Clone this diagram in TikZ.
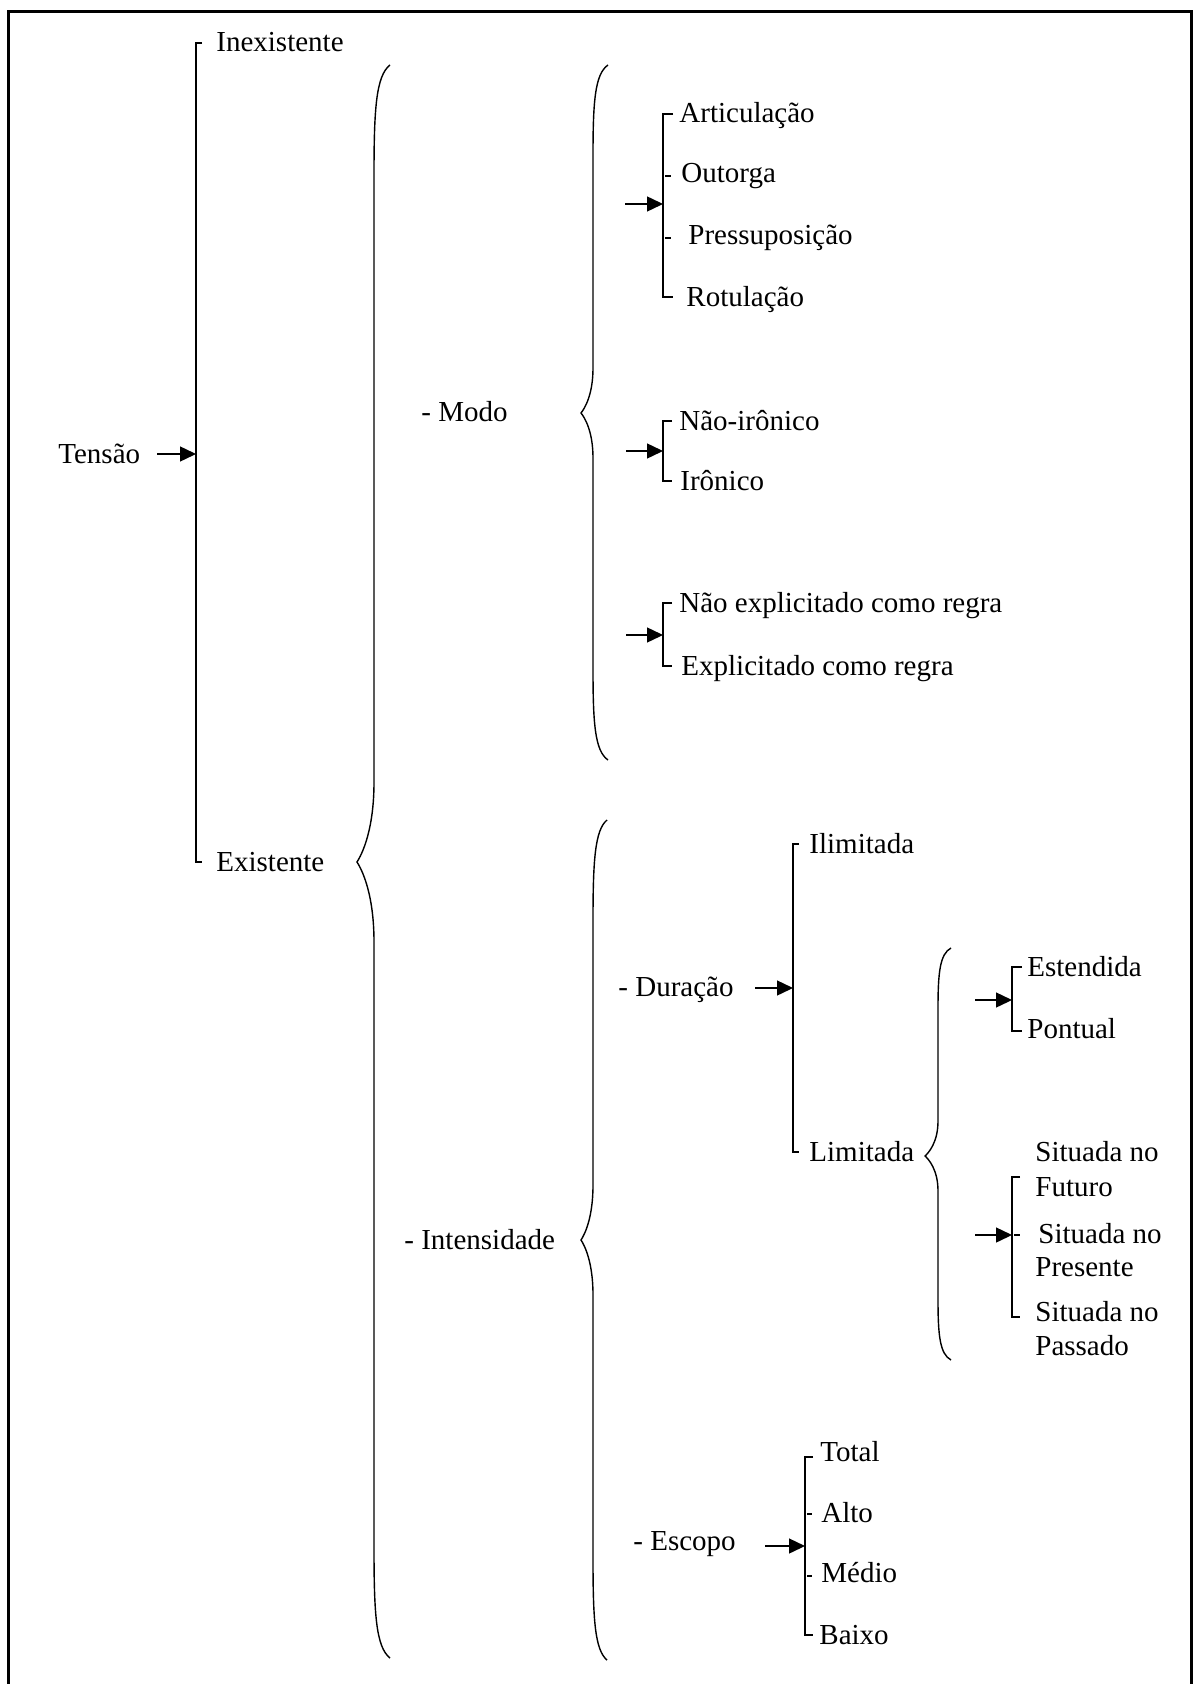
\documentclass[tikz,border=0pt]{standalone}
\usepackage{fontspec}
\setmainfont{Liberation Serif}
\usetikzlibrary{arrows.meta}
\tikzset{
  ln/.style={line width=0.7pt},
  arr/.style={line width=0.7pt,-{Triangle[length=8pt,width=7.5pt]}},
  lbl/.style={anchor=base west,inner sep=0pt,font=\fontsize{14.5}{16.5}\selectfont},
  framestyle/.style={line width=1.5pt}
}
% #1 end x, #2 vertical x, #3 tip x, #4 top y, #5 tip y, #6 bottom y, #7 tip half height, #8 end curve length
\newcommand{\wordbrace}[8]{%
  \draw[ln] (#1,#4) .. controls ({#2+2},{#4+0.1*#8}) and (#2,{#4+0.4*#8}) .. (#2,{#4+#8})
    -- (#2,{#5-#7}) .. controls (#2,{#5-0.4*#7}) and ({#3+0.3*(#2-#3)},{#5-0.1*#7}) .. (#3,#5)
    .. controls ({#3+0.3*(#2-#3)},{#5+0.1*#7}) and (#2,{#5+0.4*#7}) .. (#2,{#5+#7})
    -- (#2,{#6-#8}) .. controls (#2,{#6-0.4*#8}) and ({#2+2},{#6-0.1*#8}) .. (#1,#6);}
\begin{document}
\begin{tikzpicture}[x=0.5pt,y=-0.5pt]
\useasboundingbox (0,0) rectangle (1194,1684);
\fill[white] (0,0) rectangle (1194,1684);
\draw[framestyle] (8,1684) -- (8,12) -- (1191,12) -- (1191,1684);

% texts
\node[lbl] (tensao) at (58,463) {Tensão};
\node[lbl] (inex) at (216,52) {Inexistente};
\node[lbl] (exist) at (216,871) {Existente};
\node[lbl] (modo) at (421,422) {- Modo};
\node[lbl] (intens) at (404,1249) {- Intensidade};
\node[lbl] (artic) at (679,123) {Articulação};
\node[lbl] (outorga) at (681,183) {Outorga};
\node[lbl] (pressu) at (688,245) {Pressuposição};
\node[lbl] (rotul) at (686,307) {Rotulação};
\node[lbl] (naoiron) at (679,430) {Não-irônico};
\node[lbl] (iron) at (680,490) {Irônico};
\node[lbl] (naoexp) at (679,612) {Não explicitado como regra};
\node[lbl] (expl) at (681,675) {Explicitado como regra};
\node[lbl] (duracao) at (618,996) {- Duração};
\node[lbl] (ilim) at (809,853) {Ilimitada};
\node[lbl] (lim) at (809,1161) {Limitada};
\node[lbl] (estend) at (1027,976) {Estendida};
\node[lbl] (pontual) at (1027,1038) {Pontual};
\node[lbl] (sfa) at (1035,1161) {Situada no};
\node[lbl] (sfb) at (1035,1196) {Futuro};
\node[lbl] (spa) at (1038,1243) {Situada no};
\node[lbl] (spb) at (1035,1276) {Presente};
\node[lbl] (sqa) at (1035,1321) {Situada no};
\node[lbl] (sqb) at (1035,1355) {Passado};
\node[lbl] (escopo) at (633,1550) {- Escopo};
\node[lbl] (total) at (820,1461) {Total};
\node[lbl] (alto) at (821,1522) {Alto};
\node[lbl] (medio) at (821,1582) {Médio};
\node[lbl] (baixo) at (819,1644) {Baixo};

% bracket Tensao
\draw[ln] (202,43) -- (196,43) -- (196,862) -- (202,862);
\coordinate (t1s) at (157,454); \coordinate (t1e) at (196,454);
\draw[arr] (t1s) -- (t1e);

% braces
\wordbrace{390}{374}{357}{65}{862}{1658}{80}{110}
\wordbrace{608}{593}{581}{65}{413}{760}{45}{90}
\wordbrace{607}{593}{581}{820}{1240}{1660}{55}{100}
\wordbrace{951}{938}{925}{948}{1156}{1360}{35}{60}

% group 1
\draw[ln] (673,114) -- (663,114) -- (663,297) -- (673,297);
\draw[ln] (665,176) -- (671,176);
\draw[ln] (665,238) -- (671,238);
\coordinate (g1s) at (625,204); \coordinate (g1e) at (663,204);
\draw[arr] (g1s) -- (g1e);

% group 2
\draw[ln] (672,421) -- (663,421) -- (663,481) -- (672,481);
\coordinate (g2s) at (626,451); \coordinate (g2e) at (663,451);
\draw[arr] (g2s) -- (g2e);

% group 3
\draw[ln] (672,603) -- (663,603) -- (663,666) -- (672,666);
\coordinate (g3s) at (626,635); \coordinate (g3e) at (663,635);
\draw[arr] (g3s) -- (g3e);

% duracao
\draw[ln] (799,844) -- (793,844) -- (793,1152) -- (799,1152);
\coordinate (dus) at (755,988); \coordinate (due) at (793,988);
\draw[arr] (dus) -- (due);

% estendida / pontual
\draw[ln] (1022,967) -- (1012,967) -- (1012,1031) -- (1022,1031);
\coordinate (ess) at (975,1000); \coordinate (ese) at (1012,1000);
\draw[arr] (ess) -- (ese);

% situada
\draw[ln] (1020,1177) -- (1012,1177) -- (1012,1317) -- (1020,1317);
\draw[ln] (1014,1235) -- (1020,1235);
\coordinate (sis) at (975,1235); \coordinate (sie) at (1012,1235);
\draw[arr] (sis) -- (sie);

% escopo
\draw[ln] (813,1457) -- (805,1457) -- (805,1635) -- (813,1635);
\draw[ln] (807,1514) -- (812,1514);
\draw[ln] (807,1576) -- (812,1576);
\coordinate (ecs) at (765,1546); \coordinate (ece) at (805,1546);
\draw[arr] (ecs) -- (ece);
\end{tikzpicture}
\end{document}
